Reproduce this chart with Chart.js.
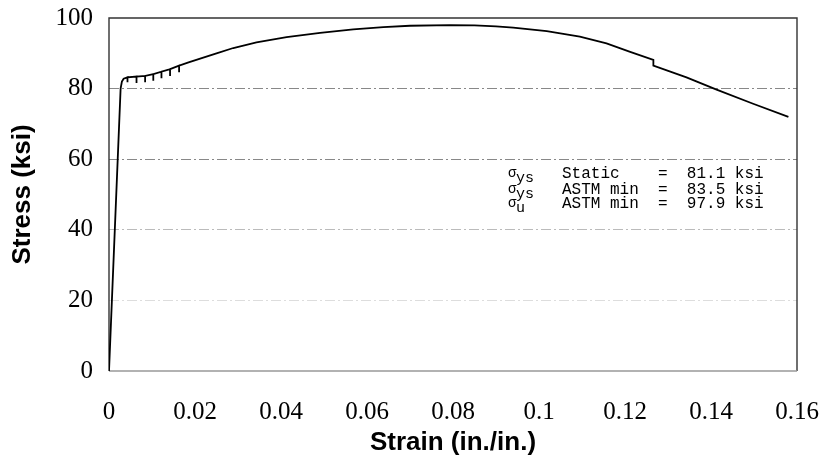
<!DOCTYPE html>
<html><head><meta charset="utf-8">
<script src="https://cdn.jsdelivr.net/npm/chart.js@4/dist/chart.umd.min.js"></script>
<style>html,body{margin:0;padding:0;background:#fff;}#wrap{width:819px;height:459px;}</style>
</head><body><div id="wrap"><canvas id="c" width="819" height="459"></canvas></div>
<script>
// Strain (in./in.) and stress (ksi)
const strain = [0, 0.0027, 0.0030, 0.0034, 0.0043, 0.0043, 0.0043, 0.0064, 0.0064, 0.0064,
  0.0084, 0.0084, 0.0084, 0.0103, 0.0103, 0.0103, 0.0122, 0.0122, 0.0122, 0.0142, 0.0142, 0.0142,
  0.0163, 0.0163, 0.0163, 0.0185, 0.0212, 0.0250, 0.0289, 0.0343, 0.0413, 0.0491, 0.0568,
  0.0638, 0.0700, 0.0793, 0.0850, 0.0900, 0.0940, 0.1018, 0.1095, 0.1157, 0.1212, 0.1266,
  0.1266, 0.1343, 0.1413, 0.1498, 0.1580];
const stress = [0, 80.0, 82.0, 82.8, 83.2, 81.8, 83.2, 83.4, 81.6, 83.4,
  83.6, 81.8, 83.6, 84.1, 82.2, 84.1, 84.8, 82.9, 84.8, 85.5, 83.6, 85.5,
  86.5, 84.6, 86.5, 87.4, 88.5, 90.0, 91.5, 93.1, 94.6, 95.8, 96.8,
  97.4, 97.8, 98.0, 97.9, 97.6, 97.3, 96.3, 94.7, 92.8, 90.4, 88.1,
  86.5, 83.2, 79.7, 75.7, 72.0];
const xTicks = [0, 0.02, 0.04, 0.06, 0.08, 0.1, 0.12, 0.14, 0.16];
const yTicks = [0, 20, 40, 60, 80, 100];
const noteSubscripts = ['ys', 'ys', 'u'];
const noteLines = ['Static    =  81.1 ksi', 'ASTM min  =  83.5 ksi', 'ASTM min  =  97.9 ksi'];

const gridColors = {20: '#dddddd', 40: '#bbbbbb', 60: '#888888', 80: '#888888'};

const framePlugin = {
  id: 'frame',
  beforeDatasetsDraw(chart) {
    const a = chart.chartArea, ctx = chart.ctx;
    ctx.save();
    ctx.strokeStyle = '#333';
    ctx.lineWidth = 1.4;
    ctx.beginPath();
    ctx.moveTo(a.left, a.bottom);
    ctx.lineTo(a.left, a.top);
    ctx.lineTo(a.right, a.top);
    ctx.lineTo(a.right, a.bottom);
    ctx.stroke();
    ctx.strokeStyle = '#999';
    ctx.lineWidth = 1.6;
    ctx.beginPath();
    ctx.moveTo(a.left, a.bottom);
    ctx.lineTo(a.right, a.bottom);
    ctx.stroke();
    ctx.restore();
  }
};

const notePlugin = {
  id: 'note',
  afterDraw(chart) {
    const ctx = chart.ctx, a = chart.chartArea;
    const x0 = a.left + 399;   // sigma column
    const xt = a.left + 453;   // text column
    const baselines = [a.top + 160, a.top + 176, a.top + 190];
    ctx.save();
    ctx.fillStyle = '#000';
    ctx.textBaseline = 'alphabetic';
    ctx.textAlign = 'left';
    for (let i = 0; i < noteLines.length; i++) {
      const b = baselines[i];
      ctx.font = '14px "Liberation Mono", "DejaVu Sans Mono", monospace';
      ctx.fillText('\u03c3', x0, b - 1);
      ctx.font = '15px "Liberation Mono", "DejaVu Sans Mono", monospace';
      ctx.fillText(noteSubscripts[i], x0 + 8, b + 3.5);
      ctx.font = '16px "Liberation Mono", "DejaVu Sans Mono", monospace';
      ctx.fillText(noteLines[i], xt, b);
    }
    ctx.restore();
  }
};

new Chart(document.getElementById('c'), {
  type: 'scatter',
  data: {
    datasets: [{
      data: strain.map((x, i) => ({x: x, y: stress[i]})),
      showLine: true,
      borderColor: '#000',
      borderWidth: 1.8,
      pointRadius: 0,
      tension: 0,
      fill: false
    }]
  },
  options: {
    responsive: false,
    animation: false,
    devicePixelRatio: 1,
    layout: {padding: {left: 0, right: 0, top: 0, bottom: 0}},
    plugins: {legend: {display: false}, tooltip: {enabled: false}},
    scales: {
      x: {
        type: 'linear', min: 0, max: 0.16,
        afterBuildTicks: s => { s.ticks = xTicks.map(v => ({value: v})); },
        afterFit: s => { s.height = 88; s.paddingRight = 22; s.paddingLeft = 0; },
        ticks: {
          font: {family: '"Liberation Serif", "Times New Roman", serif', size: 25},
          color: '#000', padding: 26, maxRotation: 0, autoSkip: false,
          callback: v => String(Number(Number(v).toFixed(2)))
        },
        grid: {display: false, drawTicks: false},
        border: {display: false},
        title: {
          display: true, text: 'Strain (in./in.)', color: '#000',
          font: {family: '"Liberation Sans", Arial, sans-serif', size: 26, weight: 'bold'},
          padding: {top: 0, bottom: 1}
        }
      },
      y: {
        type: 'linear', min: 0, max: 100,
        afterBuildTicks: s => { s.ticks = yTicks.map(v => ({value: v})); },
        afterFit: s => { s.width = 109; s.paddingTop = 18; s.paddingBottom = 0; },
        ticks: {
          font: {family: '"Liberation Serif", "Times New Roman", serif', size: 25},
          color: '#000', padding: 16
        },
        grid: {
          drawTicks: false, lineWidth: 1,
          color: c => gridColors[c.tick && c.tick.value] || 'rgba(0,0,0,0)'
        },
        border: {display: false, dash: [10, 3, 2, 3]},
        title: {
          display: true, text: 'Stress (ksi)', color: '#000',
          font: {family: '"Liberation Sans", Arial, sans-serif', size: 26, weight: 'bold'},
          padding: {top: 7, bottom: 0}
        }
      }
    }
  },
  plugins: [framePlugin, notePlugin]
});
</script>
</body></html>
